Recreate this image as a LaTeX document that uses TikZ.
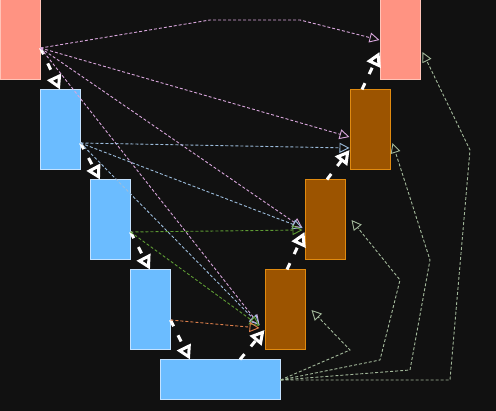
\documentclass[tikz,border=0pt]{standalone}
\usetikzlibrary{arrows.meta}
\definecolor{canvas}{HTML}{111111}
\definecolor{peachfill}{HTML}{FF9382}
\definecolor{peachline}{HTML}{FFC4B8}
\definecolor{skyfill}{HTML}{6BBCFF}
\definecolor{skyline}{HTML}{C4E2FF}
\definecolor{rustfill}{HTML}{9C5400}
\definecolor{rustline}{HTML}{E08A10}
\definecolor{linkpink}{HTML}{D8A6DC}
\definecolor{linkblue}{HTML}{9CBCDC}
\definecolor{linkgreen}{HTML}{5E9C34}
\definecolor{linkorange}{HTML}{E0804C}
\definecolor{linksage}{HTML}{A2B89A}
\begin{document}
\begin{tikzpicture}[x=1pt,y=-1pt,
  box/.style={rectangle,line width=1pt,minimum width=40pt,minimum height=80pt,inner sep=0pt},
  peach/.style={box,fill=peachfill,draw=peachline},
  sky/.style={box,fill=skyfill,draw=skyline},
  rust/.style={box,fill=rustfill,draw=rustline},
  flow/.style={draw=white,line width=3pt,dash pattern=on 7pt off 10pt,-{Triangle[open,length=14pt,width=15pt]}},
  link/.style={line width=0.9pt,dash pattern=on 3pt off 2pt,-{Triangle[open,length=10pt,width=10pt]}}]
  \fill[canvas] (0,0) rectangle (496,411);
  \useasboundingbox (0,0) rectangle (496,411);

  \node[peach] (inL) at (20,40) {};
  \node[sky] (enc1) at (60,130) {};
  \node[sky] (enc2) at (110,220) {};
  \node[sky] (enc3) at (150,310) {};
  \node[sky,minimum width=120pt,minimum height=40pt] (mid) at (220,380) {};
  \node[rust] (dec3) at (285,310) {};
  \node[rust] (dec2) at (325,220) {};
  \node[rust] (dec1) at (370,130) {};
  \node[peach] (outR) at (400,40) {};

  \draw[flow] ([yshift=-8pt]inL.east) -- (enc1.north);
  \draw[flow] ([yshift=-13pt]enc1.east) -- ([xshift=-10pt]enc2.north);
  \draw[flow] ([yshift=-12pt]enc2.east) -- (enc3.north);
  \draw[flow] ([yshift=-10pt]enc3.east) -- ([xshift=-30pt]mid.north);
  \draw[flow] ([xshift=20pt]mid.north) -- ([yshift=-20pt]dec3.west);
  \draw[flow] ([xshift=2pt]dec3.north) -- ([yshift=-12pt]dec2.west);
  \draw[flow] ([xshift=2pt]dec2.north) -- ([yshift=-20pt]dec1.west);
  \draw[flow] ([xshift=-8pt]dec1.north) -- ([yshift=-12pt]outR.west);

  \draw[link,linkpink] ([yshift=-8pt]inL.east) -- (210,20) -- (300,20) -- (outR.west);
  \draw[link,linkpink] ([yshift=-8pt]inL.east) -- ([yshift=-7pt]dec1.west);
  \draw[link,linkpink] ([yshift=-8pt]inL.east) -- ([xshift=-2pt,yshift=-8pt]dec2.west);
  \draw[link,linkpink] ([yshift=-8pt]inL.east) -- ([xshift=-5pt,yshift=-15pt]dec3.west);
  \draw[link,linkblue] ([yshift=-13pt]enc1.east) -- ([yshift=-18pt]dec1.west);
  \draw[link,linkblue] ([yshift=-13pt]enc1.east) -- ([xshift=-2pt,yshift=-8pt]dec2.west);
  \draw[link,linkblue] ([yshift=-13pt]enc1.east) -- ([xshift=-5pt,yshift=-15pt]dec3.west);
  \draw[link,linkgreen] ([yshift=-12pt]enc2.east) -- ([xshift=-2pt,yshift=-10pt]dec2.west);
  \draw[link,linkgreen] ([yshift=-12pt]enc2.east) -- ([xshift=-5pt,yshift=-16pt]dec3.west);
  \draw[link,linkorange] ([yshift=-10pt]enc3.east) -- ([xshift=-5pt,yshift=-18pt]dec3.west);
  \draw[link,linksage] (mid.east) -- (350,350) -- ([xshift=6pt]dec3.east);
  \draw[link,linksage] (mid.east) -- (380,360) -- (400,280) -- ([xshift=6pt]dec2.east);
  \draw[link,linksage] (mid.east) -- (410,370) -- (430,260) -- ([xshift=2pt,yshift=-13pt]dec1.east);
  \draw[link,linksage] (mid.east) -- (450,380) -- (470,150) -- ([xshift=2pt,yshift=-12pt]outR.east);
\end{tikzpicture}
\end{document}
